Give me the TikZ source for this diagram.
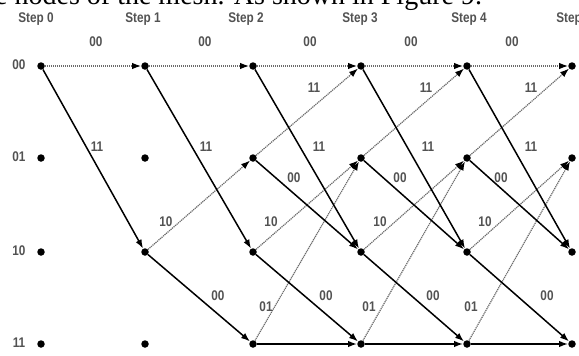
\documentclass[tikz,border=0pt]{standalone}
\usepackage{fontspec}
\usepackage{graphicx}
\setmainfont{Liberation Serif}
\newfontfamily\lblfont{Liberation Sans}
\usetikzlibrary{arrows.meta}
\newcommand\narrowtxt[1]{\scalebox{0.84}[1]{#1}}
\tikzset{
  dot/.style={circle, fill=black, inner sep=0pt, minimum size=7.5pt},
  lbl/.style={font=\lblfont\bfseries\fontsize{14}{14}\selectfont, text=black!68, inner sep=0pt},
  zeroedge/.style={draw=black!58, line width=1.2pt, dash pattern=on 1.2pt off 0.8pt,
    -{Latex[length=9pt, width=6.5pt, color=black]}},
  oneedge/.style={draw=black, line width=1.5pt, -{Latex[length=9pt, width=6.5pt]}},
}
\begin{document}
\begin{tikzpicture}[x=1pt, y=-1pt]
\useasboundingbox (0,0) rectangle (579,356);

% running text of the page, cut by the top edge
\node[anchor=base west, inner sep=0pt, font=\fontsize{28}{28}\selectfont] (caption) at (-5,5)
  {e nodes of the mesh. As shown in Figure 9.};

% step headings
\foreach \x/\s in {36/0, 143/1, 246/2, 360/3, 469/4, 574/5}
  \node[lbl, anchor=base] (step\s) at (\x,22) {\narrowtxt{Step \s}};

% state names
\foreach \y/\t [count=\i] in {65/00, 157/01, 251/10, 343/11}
  \node[lbl] (state\i) at (19,\y) {\narrowtxt{\t}};

% trellis nodes: n<step><state>
\foreach \k/\x in {0/41, 1/145, 2/253, 3/361, 4/467, 5/572}
  \foreach \r/\y in {0/66, 1/158, 2/252, 3/344}
    \node[dot] (n\k\r) at (\x,\y) {};

% input 0 branches (dotted)
\foreach \k [evaluate=\k as \n using int(\k+1)] in {0,...,4}
  \draw[zeroedge] (n\k0) -- (n\n0);
\foreach \k [evaluate=\k as \n using int(\k+1)] in {1,...,4}
  \draw[zeroedge] (n\k2) -- (n\n1);
\foreach \k [evaluate=\k as \n using int(\k+1)] in {2,...,4} {
  \draw[zeroedge] (n\k1) -- (n\n0);
  \draw[zeroedge] (n\k3) -- (n\n1);
}

% input 1 branches (solid)
\foreach \k [evaluate=\k as \n using int(\k+1)] in {0,...,4}
  \draw[oneedge] (n\k0) -- (n\n2);
\foreach \k [evaluate=\k as \n using int(\k+1)] in {1,...,4}
  \draw[oneedge] (n\k2) -- (n\n3);
\foreach \k [evaluate=\k as \n using int(\k+1)] in {2,...,4} {
  \draw[oneedge] (n\k1) -- (n\n2);
  \draw[oneedge] (n\k3) -- (n\n3);
}

% branch outputs
\foreach \x [count=\i] in {96, 205, 310, 411, 512}
  \node[lbl] (oa\i) at (\x,42) {\narrowtxt{00}};
\foreach \x [count=\i] in {97, 206, 319, 428, 531}
  \node[lbl] (ob\i) at (\x,147) {\narrowtxt{11}};
\foreach \x [count=\i] in {314, 426, 531}
  \node[lbl] (oc\i) at (\x,88) {\narrowtxt{11}};
\foreach \x [count=\i] in {294, 400, 501}
  \node[lbl] (od\i) at (\x,178) {\narrowtxt{00}};
\foreach \x [count=\i] in {166, 271, 380, 485}
  \node[lbl] (oe\i) at (\x,222) {\narrowtxt{10}};
\foreach \x [count=\i] in {218, 326, 433, 547}
  \node[lbl] (of\i) at (\x,296) {\narrowtxt{00}};
\foreach \x [count=\i] in {266, 369, 471}
  \node[lbl] (og\i) at (\x,307) {\narrowtxt{01}};
\end{tikzpicture}
\end{document}
